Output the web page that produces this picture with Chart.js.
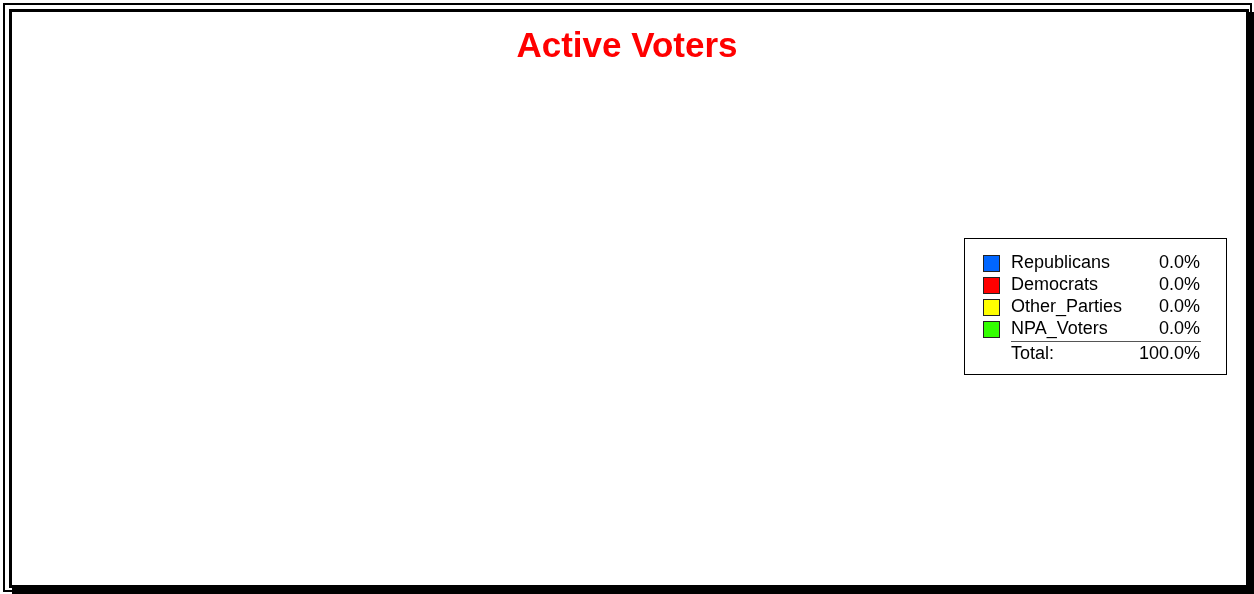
<!DOCTYPE html>
<html>
<head>
<meta charset="utf-8">
<title>Active Voters</title>
<script src="https://cdn.jsdelivr.net/npm/chart.js@4.4.0/dist/chart.umd.min.js"></script>
<style>
  html, body { margin:0; padding:0; background:#fff; }
  #wrap { position:relative; width:1254px; height:594px; }
</style>
</head>
<body>
<div id="wrap"><canvas id="voterChart" width="1254" height="594"></canvas></div>
<script>
(function(){
  const parties = ['Republicans', 'Democrats', 'Other_Parties', 'NPA_Voters'];
  const voters = [0, 0, 0, 0];
  const partyColors = ['#0066ff', '#ff0000', '#ffff00', '#33ff00'];
  const totalLabel = 'Total:';
  const totalShare = 100.0;

  const FONT = '"Liberation Sans", Arial, sans-serif';

  function share(i){
    const sum = voters.reduce((a,b)=>a+b, 0);
    return sum ? voters[i] / sum * 100 : 0;
  }

  // double frame round the whole chart, drawn before anything else
  const framePlugin = {
    id:'frame',
    beforeDraw(chart){
      const c = chart.ctx;
      c.save();
      c.fillStyle = '#fff';
      c.fillRect(0, 0, chart.width, chart.height);
      c.strokeStyle = '#000';
      c.lineWidth = 2;
      c.strokeRect(4, 4, 1247, 587);
      c.lineWidth = 3;
      c.strokeRect(10.5, 10.5, 1237, 576);
      // shadow on the bottom and right
      c.fillStyle = '#000';
      c.fillRect(12, 587, 1242, 7);
      c.fillRect(1249, 12, 5, 582);
      c.restore();
    }
  };

  // boxed legend with shares and a total row
  const shareLegend = {
    id:'shareLegend',
    afterDraw(chart){
      const c = chart.ctx;
      const bx = 964.5, by = 238.5, bw = 262, bh = 136;
      c.save();
      c.strokeStyle = '#000';
      c.lineWidth = 1;
      c.strokeRect(bx, by, bw, bh);
      c.font = '18px ' + FONT;
      c.textBaseline = 'middle';
      const rowY = [263, 285, 307, 329];
      parties.forEach((p, i)=>{
        c.fillStyle = partyColors[i];
        c.fillRect(983, rowY[i] - 8, 17, 17);
        c.strokeStyle = '#222';
        c.strokeRect(983.5, rowY[i] - 7.5, 16, 16);
        c.fillStyle = '#000';
        c.textAlign = 'left';
        c.fillText(p, 1011, rowY[i]);
        c.textAlign = 'right';
        c.fillText(share(i).toFixed(1) + '%', 1200, rowY[i]);
      });
      c.strokeStyle = '#555';
      c.lineWidth = 1;
      c.beginPath();
      c.moveTo(1011, 341.5);
      c.lineTo(1201, 341.5);
      c.stroke();
      c.fillStyle = '#000';
      c.textAlign = 'left';
      c.fillText(totalLabel, 1011, 354);
      c.textAlign = 'right';
      c.fillText(totalShare.toFixed(1) + '%', 1200, 354);
      c.restore();
    }
  };

  function build(){
    const ctx = document.getElementById('voterChart').getContext('2d');
    new Chart(ctx, {
      type:'pie',
      data:{ labels:parties, datasets:[{ data:voters, backgroundColor:partyColors, borderColor:'#000', borderWidth:1 }]},
      options:{
        responsive:false,
        animation:false,
        layout:{ padding:{ left:0, right:0, top:10, bottom:40 } },
        plugins:{
          legend:{ display:false },
          tooltip:{ enabled:false },
          title:{
            display:true,
            text:'Active Voters',
            color:'#ff0000',
            font:{ family:FONT, size:35, weight:'bold' },
            padding:{ top:16, bottom:10 }
          }
        }
      },
      plugins:[framePlugin, shareLegend]
    });
  }

  window.addEventListener('load', build);
})();
</script>
</body>
</html>
